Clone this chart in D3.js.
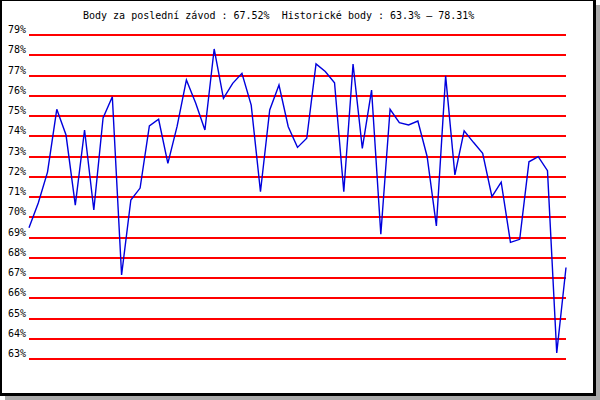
<!DOCTYPE html>
<html>
<head>
<meta charset="utf-8">
<script src="https://cdn.jsdelivr.net/npm/d3@7"></script>
<style>
  html, body { margin: 0; padding: 0; background: #fff; }
  svg { display: block; }
  text { font-family: "DejaVu Sans Mono", monospace; font-size: 10px; fill: #000; white-space: pre; }
</style>
</head>
<body>
<svg id="chart" width="600" height="400"></svg>
<script>
// Data
const titleText = "Body za poslední závod : 67.52%  Historické body : 63.3% – 78.31%";
const yTicks = [63, 64, 65, 66, 67, 68, 69, 70, 71, 72, 73, 74, 75, 76, 77, 78, 79];
const scores = [
  69.48, 70.70, 72.23, 75.33, 74.06, 70.60, 74.31, 70.36, 74.90, 75.95,
  67.15, 70.85, 71.44, 74.51, 74.84, 72.66, 74.50, 76.78, 75.64, 74.31,
  78.31, 75.87, 76.61, 77.11, 75.54, 71.26, 75.30, 76.53, 74.47, 73.45,
  73.90, 77.57, 77.20, 76.64, 71.26, 77.57, 73.40, 76.28, 69.16, 75.33,
  74.67, 74.56, 74.75, 73.00, 69.57, 76.98, 72.09, 74.27, 73.70, 73.16,
  71.02, 71.73, 68.76, 68.91, 72.74, 72.99, 72.30, 63.30, 67.52
];

const svg = d3.select("#chart");

// Shadow and frame
svg.append("rect").attr("x", 5).attr("y", 5).attr("width", 595).attr("height", 395).attr("fill", "#aaaaaa");
svg.append("rect").attr("x", 0).attr("y", 0).attr("width", 596).attr("height", 396).attr("fill", "#000");
svg.append("rect").attr("x", 2).attr("y", 1).attr("width", 591).attr("height", 392).attr("fill", "#fff");

const x = d3.scaleLinear().domain([0, scores.length - 1]).range([29, 566]);
const y = d3.scaleLinear().domain([63, 79]).range([359, 35]);

// Gridlines via axis
const grid = svg.append("g")
  .attr("transform", "translate(29,0)")
  .call(d3.axisLeft(y).tickValues(yTicks).tickSize(-537).tickFormat("").offset(0));
grid.select(".domain").remove();
grid.selectAll(".tick line")
  .attr("stroke", "#ff0000")
  .attr("stroke-width", 2)
  .attr("shape-rendering", "crispEdges");

// Labels
svg.append("g").selectAll("text")
  .data(yTicks)
  .join("text")
  .attr("x", 26)
  .attr("y", d => y(d) - 2)
  .attr("text-anchor", "end")
  .text(d => d + "%");

// Title
svg.append("text")
  .attr("x", 83)
  .attr("y", 19)
  .attr("xml:space", "preserve")
  .text(titleText);

// Line
const line = d3.line()
  .x((d, i) => x(i))
  .y(d => y(d));

svg.append("path")
  .datum(scores)
  .attr("fill", "none")
  .attr("stroke", "#0000dd")
  .attr("stroke-width", 1.4)
  .attr("d", line);
</script>
</body>
</html>
